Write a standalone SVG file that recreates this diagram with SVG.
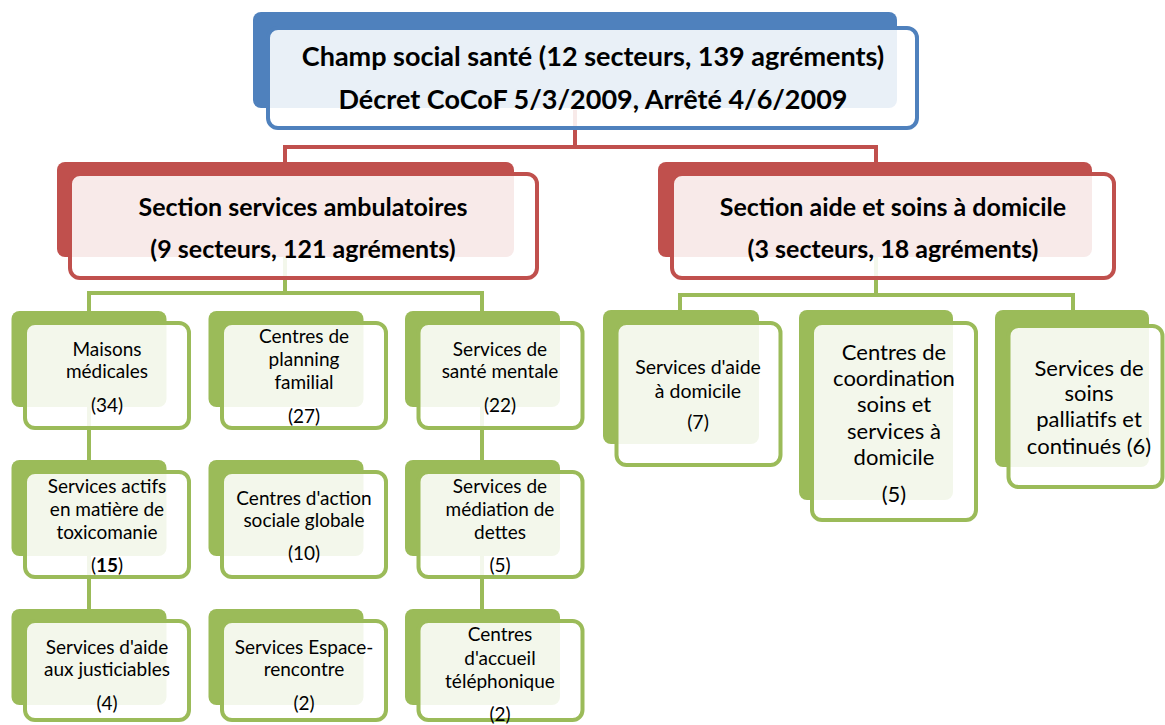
<svg xmlns="http://www.w3.org/2000/svg" width="1165" height="725" viewBox="0 0 1165 725">
<style>
text{font-family:Lato,"Liberation Sans",sans-serif;fill:#000;text-anchor:middle;dominant-baseline:central}
.h{font-weight:bold;font-size:27px}
.s{font-weight:bold;font-size:25px}
.l{font-size:19px}
.a{font-size:19.5px}
.b{font-size:22px}
.bb{fill:#4F81BD}.fb{fill:#fff;fill-opacity:0.88;stroke:#4F81BD;stroke-width:4}
.br{fill:#C0504D}.fr{fill:#fff;fill-opacity:0.88;stroke:#C0504D;stroke-width:4}
.bg{fill:#9BBB59}.fg{fill:#fff;fill-opacity:0.88;stroke:#9BBB59;stroke-width:4}
.cr{fill:none;stroke:#C0504D;stroke-width:4}
.cg{fill:none;stroke:#9BBB59;stroke-width:4}
</style>
<g id="connectors">
<path class="cr" d="M575,110V147M285,175V147H876V175"/>
<path class="cg" d="M285,250V293M89,320V293H482V320M89,293V660M482,293V660"/>
<path class="cg" d="M876,250V295M680,320V295H1073V320"/>
</g>
<g id="root">
<rect class="bb" x="253" y="12" width="644" height="96" rx="8"/>
<rect class="fb" x="268" y="28" width="649" height="100" rx="10"/>
<text class="h" x="593" y="55">Champ social santé (12 secteurs, 139 agréments)</text>
<text class="h" x="593" y="98">Décret CoCoF 5/3/2009, Arrêté 4/6/2009</text>
</g>
<g id="sec-ambulatoires">
<rect class="br" x="57" y="162" width="457" height="95" rx="8"/>
<rect class="fr" x="70" y="174" width="467" height="104" rx="10"/>
<text class="s" x="303" y="206">Section services ambulatoires</text>
<text class="s" x="303" y="248">(9 secteurs, 121 agréments)</text>
</g>
<g id="sec-domicile">
<rect class="br" x="658" y="162" width="434" height="95" rx="8"/>
<rect class="fr" x="672" y="174" width="442" height="104" rx="10"/>
<text class="s" x="893" y="206">Section aide et soins à domicile</text>
<text class="s" x="893" y="248">(3 secteurs, 18 agréments)</text>
</g>
<g id="maisons-medicales">
<rect class="bg" x="11.5" y="311" width="155" height="96" rx="8"/>
<rect class="fg" x="25" y="323" width="164" height="105" rx="10"/>
<text class="l" x="107" y="348">Maisons</text>
<text class="l" x="107" y="370">médicales</text>
<text class="l" x="107" y="404">(34)</text>
</g>
<g id="planning-familial">
<rect class="bg" x="208.5" y="311" width="155" height="96" rx="8"/>
<rect class="fg" x="222" y="323" width="164" height="105" rx="10"/>
<text class="l" x="304" y="335">Centres de</text>
<text class="l" x="304" y="358">planning</text>
<text class="l" x="304" y="381">familial</text>
<text class="l" x="304" y="415">(27)</text>
</g>
<g id="sante-mentale">
<rect class="bg" x="405" y="311" width="155" height="96" rx="8"/>
<rect class="fg" x="418.5" y="323" width="164" height="105" rx="10"/>
<text class="l" x="500" y="348">Services de</text>
<text class="l" x="500" y="370">santé mentale</text>
<text class="l" x="500" y="404">(22)</text>
</g>
<g id="toxicomanie">
<rect class="bg" x="11.5" y="460" width="155" height="96" rx="8"/>
<rect class="fg" x="25" y="472" width="164" height="105" rx="10"/>
<text class="l" x="107" y="485">Services actifs</text>
<text class="l" x="107" y="508">en matière de</text>
<text class="l" x="107" y="531">toxicomanie</text>
<text class="l" x="107" y="564">(<tspan font-weight="bold">15</tspan>)</text>
</g>
<g id="action-sociale">
<rect class="bg" x="208.5" y="460" width="155" height="96" rx="8"/>
<rect class="fg" x="222" y="472" width="164" height="105" rx="10"/>
<text class="l" x="304" y="497">Centres d'action</text>
<text class="l" x="304" y="519">sociale globale</text>
<text class="l" x="304" y="552">(10)</text>
</g>
<g id="mediation-dettes">
<rect class="bg" x="405" y="460" width="155" height="96" rx="8"/>
<rect class="fg" x="418.5" y="472" width="164" height="105" rx="10"/>
<text class="l" x="500" y="485">Services de</text>
<text class="l" x="500" y="508">médiation de</text>
<text class="l" x="500" y="531">dettes</text>
<text class="l" x="500" y="564">(5)</text>
</g>
<g id="justiciables">
<rect class="bg" x="11.5" y="609" width="155" height="96" rx="8"/>
<rect class="fg" x="25" y="621" width="164" height="99" rx="10"/>
<text class="l" x="107" y="646">Services d'aide</text>
<text class="l" x="107" y="668">aux justiciables</text>
<text class="l" x="107" y="702">(4)</text>
</g>
<g id="espace-rencontre">
<rect class="bg" x="208.5" y="609" width="155" height="96" rx="8"/>
<rect class="fg" x="222" y="621" width="164" height="99" rx="10"/>
<text class="l" x="304" y="646">Services Espace-</text>
<text class="l" x="304" y="668">rencontre</text>
<text class="l" x="304" y="702">(2)</text>
</g>
<g id="accueil-telephonique">
<rect class="bg" x="405" y="609" width="155" height="96" rx="8"/>
<rect class="fg" x="418.5" y="621" width="164" height="99" rx="10"/>
<text class="l" x="500" y="633">Centres</text>
<text class="l" x="500" y="657">d'accueil</text>
<text class="l" x="500" y="680">téléphonique</text>
<text class="l" x="500" y="713">(2)</text>
</g>
<g id="aide-domicile">
<rect class="bg" x="603" y="310" width="156" height="134" rx="8"/>
<rect class="fg" x="616.5" y="323" width="164" height="142" rx="10"/>
<text class="a" x="698" y="366">Services d'aide</text>
<text class="a" x="698" y="390">à domicile</text>
<text class="a" x="698" y="421">(7)</text>
</g>
<g id="coordination">
<rect class="bg" x="799" y="310" width="154" height="190" rx="8"/>
<rect class="fg" x="812" y="323" width="164" height="197" rx="10"/>
<text class="b" x="894" y="351">Centres de</text>
<text class="b" x="894" y="377">coordination</text>
<text class="b" x="894" y="403">soins et</text>
<text class="b" x="894" y="430">services à</text>
<text class="b" x="894" y="456">domicile</text>
<text class="b" x="894" y="493">(5)</text>
</g>
<g id="palliatifs">
<rect class="bg" x="995" y="310" width="154" height="157" rx="8"/>
<rect class="fg" x="1008.5" y="326" width="154" height="161" rx="10"/>
<text class="b" x="1089" y="367">Services de</text>
<text class="b" x="1089" y="392">soins</text>
<text class="b" x="1089" y="418">palliatifs et</text>
<text class="b" x="1089" y="445">continués (6)</text>
</g>
</svg>
